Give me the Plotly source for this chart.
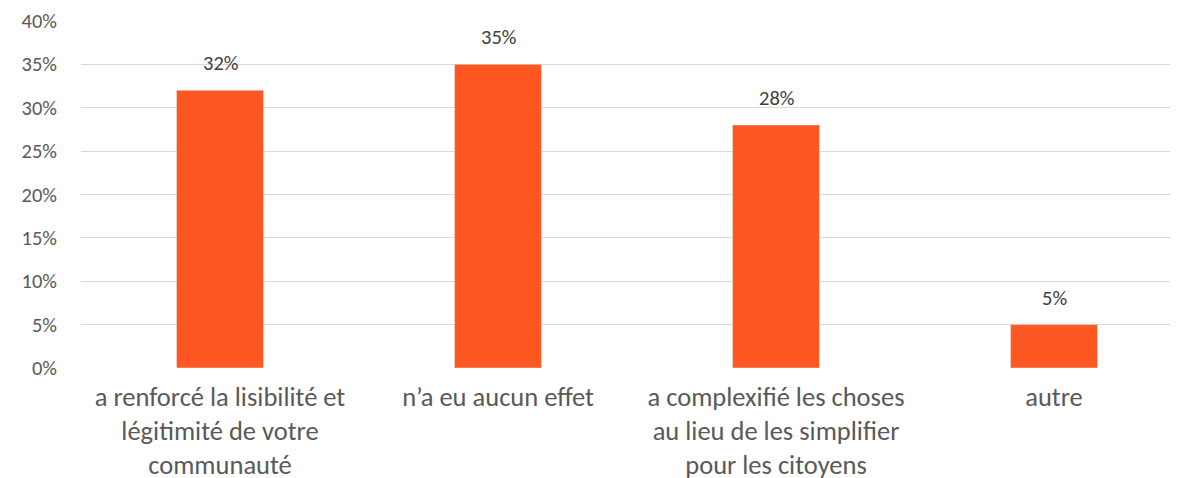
import plotly.graph_objects as go

categories = [
    "a renforcé la lisibilité et<br>légitimité de votre<br>communauté",
    "n’a eu aucun effet",
    "a complexifié les choses<br>au lieu de les simplifier<br>pour les citoyens",
    "autre",
]
values = [0.32, 0.35, 0.28, 0.05]
labels = ["32%", "35%", "28%", "5%"]
y_ticks = [0, 0.05, 0.10, 0.15, 0.20, 0.25, 0.30, 0.35, 0.40]

FONT = "Carlito, Calibri, Lato, sans-serif"
TXT = "#595959"

fig = go.Figure(go.Bar(
    x=categories, y=values, marker_color="#FF5722", width=0.313,
    hoverinfo="skip",
))

for c, v, l in zip(categories, values, labels):
    fig.add_annotation(x=c, y=v, text=l, showarrow=False, yanchor="bottom",
                       yshift=12, font=dict(family=FONT, size=20.5, color="#404040"))

# page body has an 8px default margin, so the figure is offset by 8px
fig.update_layout(
    width=1170, height=470,
    margin=dict(l=73, r=0, t=12, b=110, autoexpand=False),
    plot_bgcolor="white", paper_bgcolor="white",
    showlegend=False,
    font=dict(family=FONT, color=TXT),
    xaxis=dict(range=[-0.5, 3.446], showgrid=False, zeroline=False,
               showline=False, ticks="", tickfont=dict(size=26.5, color=TXT),
               ticklabelstandoff=10, automargin=False),
    yaxis=dict(range=[0, 0.401], tickvals=y_ticks, tickformat=".0%",
               showgrid=True, gridcolor="#d9d9d9", gridwidth=1.3,
               zeroline=False, showline=False, ticks="",
               tickfont=dict(size=20.5, color=TXT), ticklabelstandoff=23,
               automargin=False),
)

fig.write_html("out.html")
